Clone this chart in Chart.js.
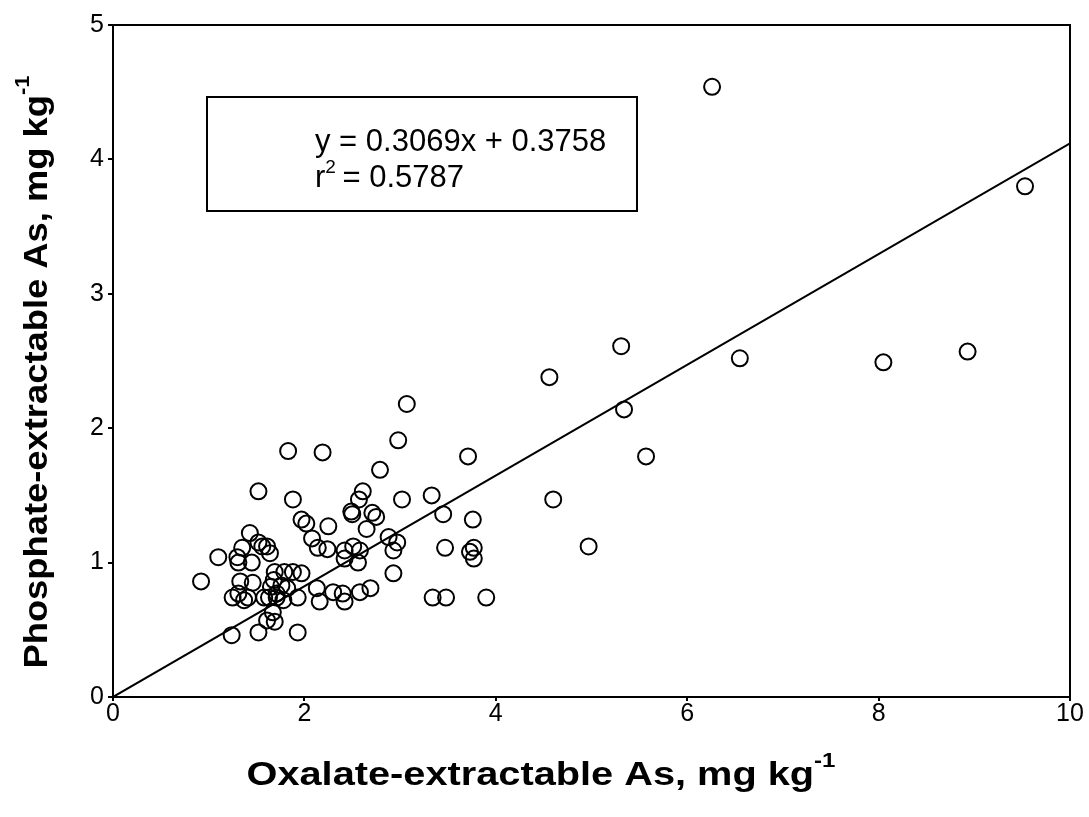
<!DOCTYPE html>
<html lang="en">
<head>
  <meta charset="UTF-8" />
  <title>Phosphate vs oxalate extractable As</title>
  <script src="https://cdn.jsdelivr.net/npm/chart.js"></script>
  <style>
    body {
      margin: 0;
      background-color: #ffffff;
    }
    #wrap {
      width: 1089px;
      height: 817px;
    }
  </style>
</head>
<body>

  <div id="wrap">
    <canvas id="asChart" width="1089" height="817"></canvas>
  </div>

<script>
  // oxalate-extractable As (x) and phosphate-extractable As (y), mg/kg
  const xValues = [
    6.26, 9.53, 5.31, 6.55, 8.05, 8.93, 5.34, 4.56, 5.57, 4.60,
    4.97, 3.07, 2.98, 3.71, 2.79, 3.33, 3.02, 3.45, 3.76, 3.47,
    3.73, 3.77, 3.77, 3.34, 3.48, 3.90, 1.83, 2.19, 1.52, 1.88,
    2.61, 2.57, 2.49, 2.50, 2.71, 2.75, 1.97, 2.02, 2.25, 2.65,
    2.88, 2.97, 2.93, 2.08, 1.43, 1.52, 1.61, 1.35, 1.56, 1.64,
    1.30, 1.31, 1.45, 1.10, 0.92, 1.33, 1.46, 1.69, 1.79, 1.88,
    1.97, 1.68, 1.76, 1.65, 1.82, 1.71, 1.31, 1.25, 1.37, 1.41,
    1.58, 1.63, 1.71, 1.78, 1.93, 1.67, 1.61, 1.69, 1.24, 1.52,
    1.93, 2.14, 2.24, 2.42, 2.51, 2.58, 2.42, 2.56, 2.93, 2.13,
    2.16, 2.30, 2.40, 2.42, 2.58, 2.69
  ];
  const yValues = [
    4.54, 3.80, 2.61, 2.52, 2.49, 2.57, 2.14, 2.38, 1.79, 1.47,
    1.12, 2.18, 1.91, 1.79, 1.69, 1.50, 1.47, 1.36, 1.32, 1.11,
    1.08, 1.11, 1.03, 0.74, 0.74, 0.74, 1.83, 1.82, 1.53, 1.47,
    1.53, 1.47, 1.38, 1.36, 1.37, 1.34, 1.32, 1.29, 1.27, 1.25,
    1.19, 1.15, 1.09, 1.18, 1.22, 1.15, 1.12, 1.11, 1.12, 1.07,
    1.04, 1.00, 1.00, 1.04, 0.86, 0.86, 0.85, 0.93, 0.93, 0.93,
    0.92, 0.87, 0.83, 0.82, 0.81, 0.77, 0.77, 0.74, 0.72, 0.74,
    0.74, 0.74, 0.74, 0.72, 0.74, 0.63, 0.57, 0.56, 0.46, 0.48,
    0.48, 1.11, 1.10, 1.09, 1.12, 1.09, 1.03, 1.00, 0.92, 0.81,
    0.71, 0.78, 0.77, 0.71, 0.78, 0.81
  ];

  // fitted line as drawn in the figure
  const lineX = [0, 10];
  const lineY = [0, 4.12];

  const eqText = 'y = 0.3069x + 0.3758';
  const r2Text = ' = 0.5787';
  const xTitle = 'Oxalate-extractable As, mg kg';
  const yTitle = 'Phosphate-extractable As, mg kg';
  const unitSup = '-1';

  const fontFam = '"Liberation Sans", Arial, sans-serif';

  const points = xValues.map((x, i) => ({ x: x, y: yValues[i] }));
  const linePts = lineX.map((x, i) => ({ x: x, y: lineY[i] }));

  // bold title with a superscript tail, centred at (cx, cy), squeezed/stretched to span width
  function textWithSup(ctx, main, sup, cx, cy, size, span) {
    const supSize = Math.round(size * 0.62);
    ctx.font = 'bold ' + size + 'px ' + fontFam;
    const w1 = ctx.measureText(main).width;
    ctx.font = 'bold ' + supSize + 'px ' + fontFam;
    const w2 = ctx.measureText(sup).width;
    const k = span / (w1 + w2);
    ctx.save();
    ctx.translate(cx, cy);
    ctx.scale(k, 1);
    const x0 = -(w1 + w2) / 2;
    ctx.textAlign = 'left';
    ctx.textBaseline = 'middle';
    ctx.font = 'bold ' + size + 'px ' + fontFam;
    ctx.fillText(main, x0, 0);
    ctx.font = 'bold ' + supSize + 'px ' + fontFam;
    ctx.fillText(sup, x0 + w1, -size * 0.45);
    ctx.restore();
  }

  const decor = {
    id: 'decor',
    afterDraw(chart) {
      const ctx = chart.ctx;
      const a = chart.chartArea;
      ctx.save();
      ctx.fillStyle = '#000';
      ctx.strokeStyle = '#000';
      ctx.lineWidth = 2;

      // plot frame
      ctx.strokeRect(a.left, a.top, a.right - a.left, a.bottom - a.top);

      // equation box
      ctx.strokeRect(a.left + 94, a.top + 72, 430, 114);
      ctx.font = '31px ' + fontFam;
      ctx.textAlign = 'left';
      ctx.textBaseline = 'alphabetic';
      ctx.fillText(eqText, a.left + 202, a.top + 126);
      ctx.fillText('r', a.left + 202, a.top + 162);
      const rw = ctx.measureText('r').width;
      ctx.font = '19px ' + fontFam;
      ctx.fillText('2', a.left + 202 + rw, a.top + 148);
      const w2 = ctx.measureText('2').width;
      ctx.font = '31px ' + fontFam;
      ctx.fillText(r2Text, a.left + 202 + rw + w2 - 2, a.top + 162);

      // axis titles
      textWithSup(ctx, xTitle, unitSup, 541, 776, 33, 589);
      ctx.translate(38, 372);
      ctx.rotate(-Math.PI / 2);
      textWithSup(ctx, yTitle, unitSup, 0, 0, 33, 593);
      ctx.restore();
    }
  };

  const ctx = document.getElementById('asChart').getContext('2d');

  new Chart(ctx, {
    type: 'scatter',
    data: {
      datasets: [
        {
          label: 'Samples',
          data: points,
          pointStyle: 'circle',
          pointRadius: 8,
          pointHoverRadius: 8,
          borderColor: '#000',
          borderWidth: 2,
          backgroundColor: 'rgba(0,0,0,0)'
        },
        {
          label: 'Regression',
          data: linePts,
          showLine: true,
          pointRadius: 0,
          borderColor: '#000',
          borderWidth: 2,
          fill: false
        }
      ]
    },
    options: {
      responsive: false,
      devicePixelRatio: 1,
      animation: false,
      layout: { padding: { left: 0, top: 25, right: 19, bottom: 0 } },
      plugins: {
        legend: { display: false },
        tooltip: { enabled: false }
      },
      scales: {
        x: {
          type: 'linear',
          min: 0,
          max: 10,
          afterFit(scale) { scale.height = 120; },
          border: { color: '#000', width: 2 },
          grid: { drawOnChartArea: false, drawTicks: true, tickLength: 4, color: '#000', lineWidth: 2 },
          ticks: {
            stepSize: 2,
            color: '#000',
            padding: -2,
            maxRotation: 0,
            font: { family: fontFam, size: 25 }
          }
        },
        y: {
          type: 'linear',
          min: 0,
          max: 5,
          afterFit(scale) { scale.width = 113; },
          border: { color: '#000', width: 2 },
          grid: { drawOnChartArea: false, drawTicks: true, tickLength: 5, color: '#000', lineWidth: 2 },
          ticks: {
            stepSize: 1,
            color: '#000',
            padding: 4,
            font: { family: fontFam, size: 25 }
          }
        }
      }
    },
    plugins: [decor]
  });
</script>

</body>
</html>
